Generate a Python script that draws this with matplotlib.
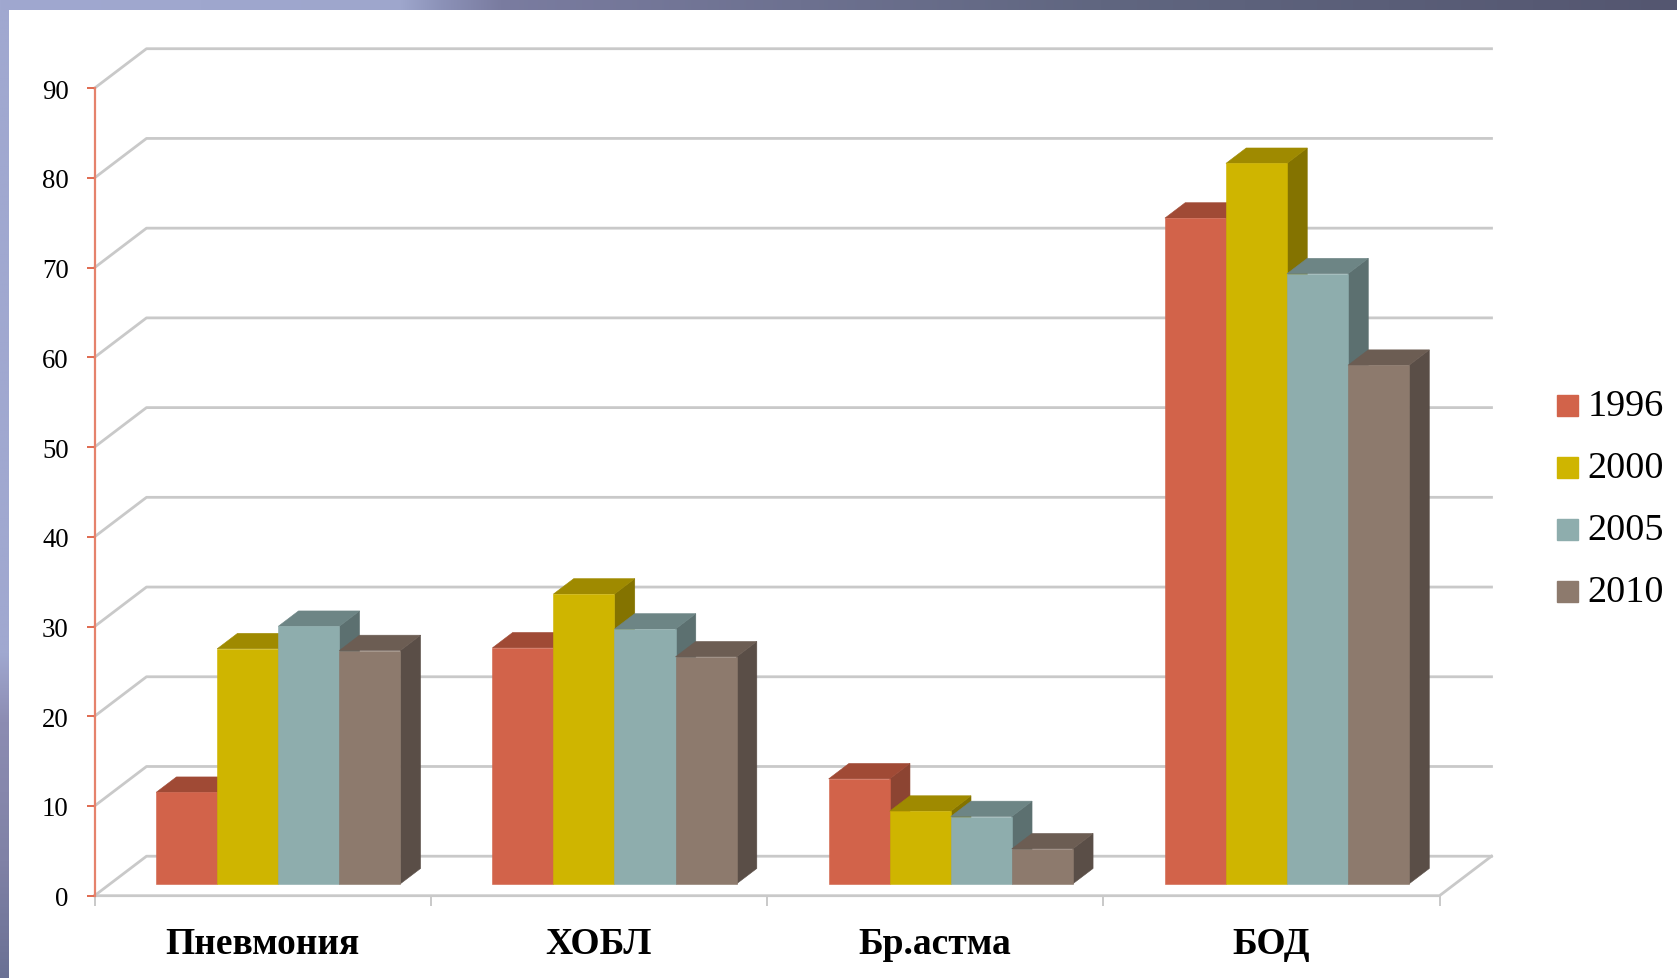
"""
3D style clustered bars, drawn by hand with polygons on a plain axes.
"""

import numpy as np
import matplotlib.pyplot as plt
from matplotlib.legend_handler import HandlerPatch
from matplotlib.patches import Patch

plt.rcParams['font.family'] = ['Liberation Serif', 'DejaVu Serif']

categories = ["Пневмония", "ХОБЛ", "Бр.астма", "БОД"]
years = ["1996", "2000", "2005", "2010"]

values_1996 = [10.2, 26.3, 11.7, 74.2]
values_2000 = [26.2, 32.3, 8.1, 80.3]
values_2005 = [28.7, 28.4, 7.5, 68.0]
values_2010 = [26.0, 25.3, 3.9, 57.8]

front_colors = ["#d2634a", "#cfb500", "#8eadad", "#8d7a6d"]
top_colors = ["#a04a35", "#9f8a00", "#6d8585", "#6c5d53"]
side_colors = ["#8c4432", "#847300", "#5c7070", "#5a4e47"]

W, H = 1677, 979
DPI = 100

# depth of the box in data units (52 px across, 39.5 px up)
DEPTH_X = 52 / 336.25
DEPTH_Y = 39.5 / 8.975
# where the bars sit inside the depth of the box
BAR_FRONT = 0.30
BAR_BACK = 0.69
GAP = 0.137
BAR_W = (1 - 2 * GAP) / 4
GRID = "#c9c9c9"


def proj(x, v, d):
    """Move a point (x, value) back by depth d (0 front, 1 back wall)."""
    return x + d * DEPTH_X, v + d * DEPTH_Y


def draw_bar(ax, x0, x1, v, i):
    f0, f1 = BAR_FRONT, BAR_BACK
    corners = [
        ([(x1, 0, f0), (x1, 0, f1), (x1, v, f1), (x1, v, f0)], side_colors[i]),
        ([(x0, v, f0), (x1, v, f0), (x1, v, f1), (x0, v, f1)], top_colors[i]),
        ([(x0, 0, f0), (x1, 0, f0), (x1, v, f0), (x0, v, f0)], front_colors[i]),
    ]
    for pts, color in corners:
        xs, ys = zip(*[proj(*p) for p in pts])
        ax.fill(xs, ys, color=color, lw=0.4, clip_on=False, zorder=3)


fig = plt.figure(figsize=(W / DPI, H / DPI), dpi=DPI, facecolor="white")

# slide background bands
bg = fig.add_axes([0, 0, 1, 1], zorder=0)
top_x = [0, 400, 440, 500, 1100, 1677]
top_r = [160, 158, 140, 122, 96, 84]
top_g = [168, 166, 146, 124, 102, 86]
top_b = [208, 204, 184, 160, 128, 112]
xx = np.arange(W)
band = np.dstack([np.interp(xx, top_x, c) for c in (top_r, top_g, top_b)]) / 255
bg.imshow(band, extent=(0, W, 11, 0), aspect="auto")
left_y = [0, 650, 720, 860, 979]
left_r = [160, 160, 140, 128, 106]
left_g = [168, 168, 140, 130, 112]
left_b = [208, 208, 178, 166, 148]
yy = np.arange(H)
strip = np.dstack([np.interp(yy, left_y, c) for c in (left_r, left_g, left_b)])
strip = strip.reshape(H, 1, 3) / 255
bg.imshow(strip, extent=(0, 9, H, 11), aspect="auto")
bg.set_xlim(0, W)
bg.set_ylim(H, 0)
bg.axis("off")

ax = fig.add_axes([94.5 / W, 1 - 896.7 / H, (1439.5 - 94.5) / W, (896.7 - 89.2) / H], zorder=1)
ax.patch.set_alpha(0)
ax.set_xlim(0, 4)
ax.set_ylim(0, 90)

# walls
for v in range(0, 100, 10):
    x_back, y_back = proj(0, v, 1)
    ax.plot([0, x_back, 4 + DEPTH_X], [v, y_back, y_back], color=GRID, lw=2,
            clip_on=False, zorder=1, solid_joinstyle="round")
ax.plot([0, 4, 4 + DEPTH_X], [0, 0, DEPTH_Y], color=GRID, lw=2, clip_on=False, zorder=1)

series = [values_1996, values_2000, values_2005, values_2010]
for c in range(len(categories)):
    for i, vals in enumerate(series):
        x0 = c + GAP + i * BAR_W
        draw_bar(ax, x0, x0 + BAR_W, vals[c], i)

for side in ("top", "right", "bottom"):
    ax.spines[side].set_visible(False)
ax.spines["left"].set_color("#e5826c")
ax.spines["left"].set_linewidth(1.6)

ax.set_yticks(np.arange(0, 100, 10))
ax.tick_params(axis="y", length=5.8, width=1.4, color="#e0694f", pad=12.7, labelsize=19.3)
ax.set_xticks(range(5))
ax.set_xticklabels([])
ax.tick_params(axis="x", which="major", length=7.5, width=1.4, color=GRID)
ax.set_xticks(np.arange(len(categories)) + 0.5, minor=True)
ax.set_xticklabels(categories, minor=True, fontsize=27, fontweight="bold")
ax.tick_params(axis="x", which="minor", length=0, pad=22)

handles = [Patch(color=c, label=y) for c, y in zip(front_colors, years)]
# negative ypad drops the swatch so its bottom sits on the text baseline
fig.legend(handles=handles, loc="center left", bbox_to_anchor=(1557 / W, 1 - 500 / H),
           frameon=False, fontsize=27.5, handlelength=0.55, handleheight=0.113,
           handler_map={Patch: HandlerPatch(ypad=-0.2315)},
           handletextpad=0.24, labelspacing=0.72, borderpad=0, borderaxespad=0)

fig.savefig("out.png", dpi=DPI)
